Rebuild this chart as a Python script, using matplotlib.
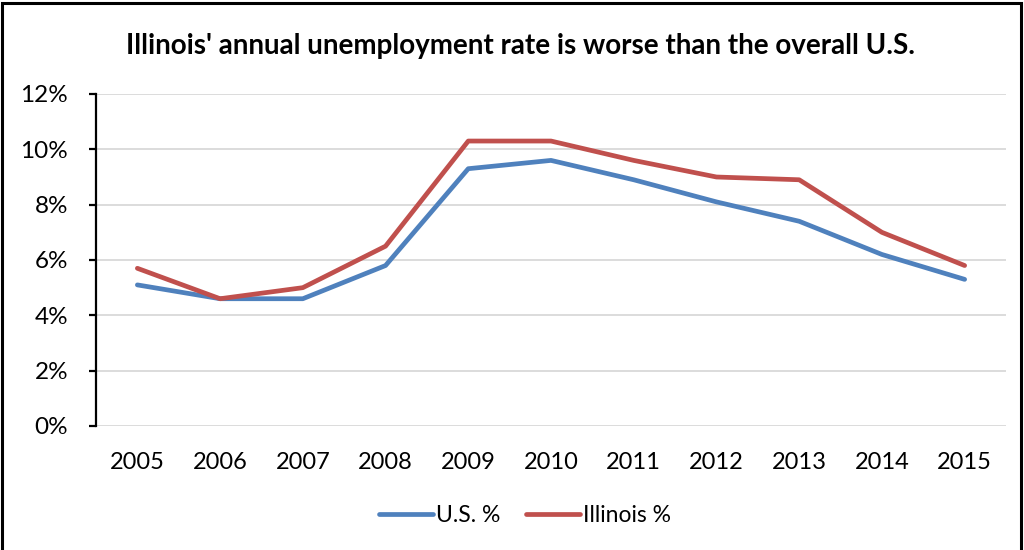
import matplotlib
matplotlib.use("Agg")
import matplotlib.pyplot as plt
from matplotlib.patches import Rectangle
from matplotlib.ticker import FuncFormatter

years = ["2005", "2006", "2007", "2008", "2009", "2010", "2011", "2012", "2013", "2014", "2015"]
us_pct = [5.1, 4.6, 4.6, 5.8, 9.3, 9.6, 8.9, 8.1, 7.4, 6.2, 5.3]
il_pct = [5.7, 4.6, 5.0, 6.5, 10.3, 10.3, 9.6, 9.0, 8.9, 7.0, 5.8]
y_ticks = [0, 2, 4, 6, 8, 10, 12]
title = "Illinois' annual unemployment rate is worse than the overall U.S."

plt.rcParams['font.family'] = ['Lato', 'DejaVu Sans']

fig = plt.figure(figsize=(10.24, 5.5), dpi=100)
ax = fig.add_axes([96/1024, 1-426/550, (1006-96)/1024, (426-94)/550])

x = list(range(len(years)))
ax.plot(x, us_pct, color="#4F81BD", lw=3.4, solid_capstyle="round", solid_joinstyle="round", label="U.S. %")
ax.plot(x, il_pct, color="#C0504D", lw=3.4, solid_capstyle="round", solid_joinstyle="round", label="Illinois %")

ax.set_xlim(-0.5, len(years)-0.5)
ax.set_ylim(0, 12)
ax.set_yticks(y_ticks)
ax.yaxis.set_major_formatter(FuncFormatter(lambda v, p: f"{int(v)}%"))
ax.set_xticks(x)
ax.set_xticklabels(years)
ax.grid(axis="y", color="#d9d9d9", lw=1.3)
ax.set_axisbelow(True)
for s in ["top", "right", "bottom"]:
    ax.spines[s].set_visible(False)
ax.spines["left"].set_color("black")
ax.spines["left"].set_linewidth(1.6)
ax.tick_params(axis="y", length=5, width=1.6, pad=15, labelsize=17.5)
ax.tick_params(axis="x", length=0, pad=19, labelsize=17)

fig.text(521/1024, 1-54/550, title, ha="center", va="baseline", fontsize=20, fontweight="bold")

leg = fig.legend(loc="center", bbox_to_anchor=(525/1024, 1-516/550), ncol=2, frameon=False,
                 fontsize=16.5, handlelength=2.35, handletextpad=0.15, columnspacing=1.1)

fig.patches.append(Rectangle((0.002, -0.01), 0.995, 1.005, transform=fig.transFigure,
                             fill=False, edgecolor="black", lw=2.2))

fig.savefig("out.png", dpi=100)
